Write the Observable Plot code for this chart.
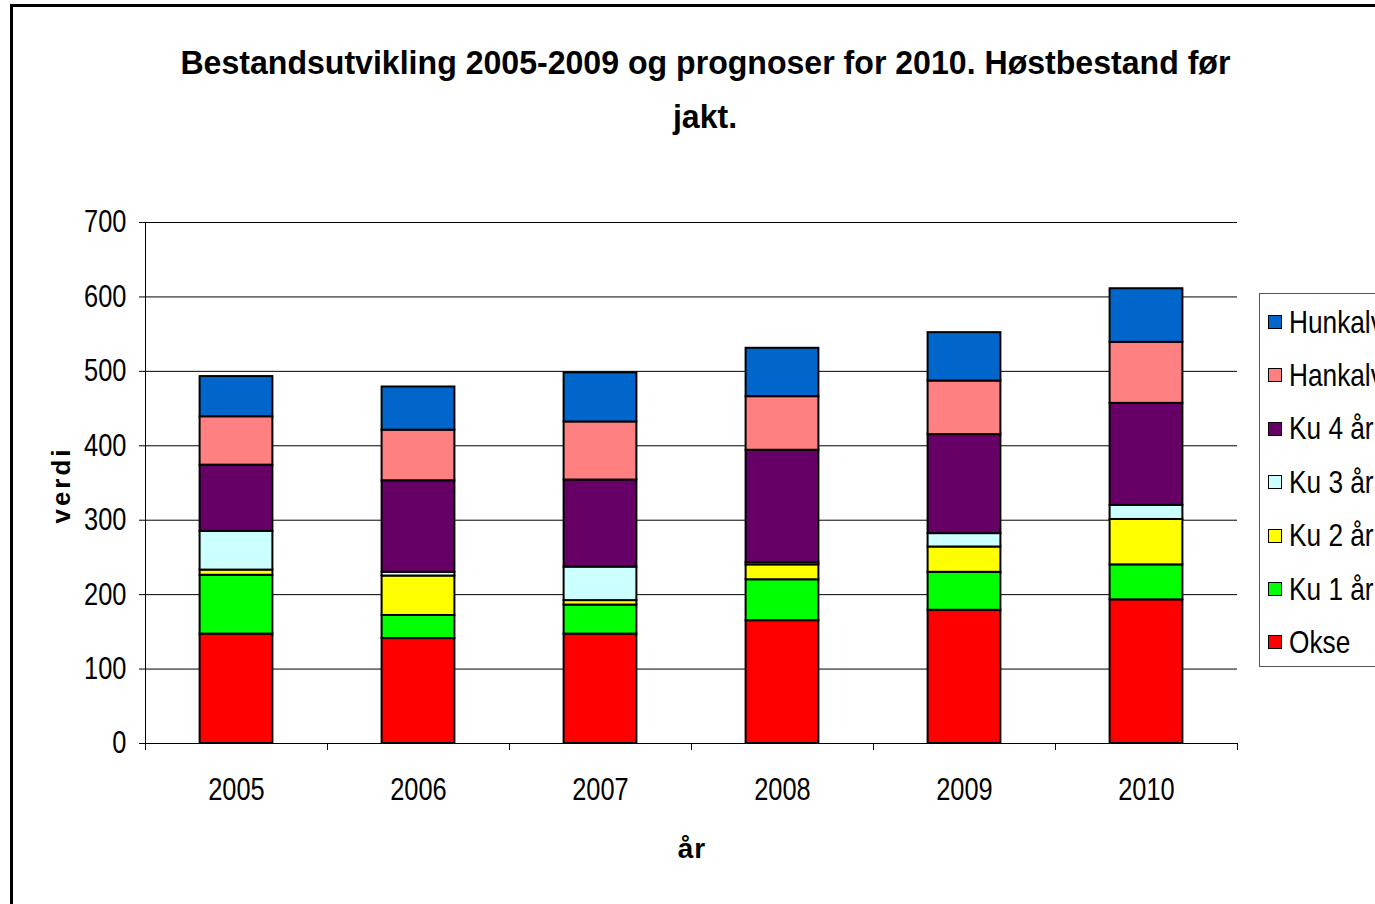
<!DOCTYPE html>
<html>
<head>
<meta charset="utf-8">
<script src="https://cdn.jsdelivr.net/npm/d3@7"></script>
<script src="https://cdn.jsdelivr.net/npm/@observablehq/plot@0.6"></script>
<style>
  html, body { margin: 0; padding: 0; width: 1375px; height: 904px; overflow: hidden; background: #fff; }
  #wrap { position: relative; width: 1375px; height: 904px; font-family: "Liberation Sans", Arial, sans-serif; }
  #frame { position: absolute; left: 10px; top: 4px; width: 1400px; height: 950px; border: 3px solid #000; box-sizing: border-box; }
  #chart { position: absolute; left: 0; top: 0; }
  #title { position: absolute; left: 105px; width: 1200px; top: 35px; text-align: center; font-weight: bold; font-size: 34px; line-height: 54px; color: #000; }
  #title span { display: inline-block; white-space: nowrap; transform-origin: center; }
  #ylab { position: absolute; left: 61px; top: 485px; transform: translate(-50%, -50%) rotate(-90deg); font-weight: bold; font-size: 26px; letter-spacing: 3px; white-space: nowrap; }
  #xlab { position: absolute; left: 692px; top: 849px; transform: translate(-50%, -50%); font-weight: bold; font-size: 28px; letter-spacing: 1px; white-space: nowrap; }
  #legend { position: absolute; left: 1259px; top: 293px; width: 200px; height: 374px; border: 1px solid #555; box-sizing: border-box; }
  .item { position: absolute; left: 8px; height: 40px; display: flex; align-items: center; font-size: 32px; white-space: nowrap; transform: translateY(-50%); }
  .item .tx { display: inline-block; transform: scaleX(0.82); transform-origin: left center; }
  .sw { width: 12px; height: 12px; border: 1.5px solid #000; margin-right: 7px; flex: none; }
</style>
</head>
<body>
<div id="wrap">
  <div id="frame"></div>
  <div id="chart"></div>
  <div id="title"><span id="t1">Bestandsutvikling 2005-2009 og prognoser for 2010. Høstbestand før</span><br><span id="t2">jakt.</span></div>
  <div id="ylab">verdi</div>
  <div id="xlab">år</div>
  <div id="legend"></div>
</div>
<script>
const years = ["2005", "2006", "2007", "2008", "2009", "2010"];
const series = ["Okse", "Ku 1 år", "Ku 2 år", "Ku 3 år", "Ku 4 år", "Hankalv", "Hunkalv"];
const colors = ["#FF0000", "#00FF00", "#FFFF00", "#CCFFFF", "#660066", "#FF8080", "#0066CC"];
const okse    = [147, 141, 147, 165, 179, 193];
const ku1     = [79, 31, 39, 55, 51, 47];
const ku2     = [7, 53, 6, 20, 34, 61];
const ku3     = [52, 5, 45, 3, 18, 19];
const ku4     = [89, 123, 117, 151, 133, 137];
const hankalv = [65, 68, 78, 72, 72, 82];
const hunkalv = [54, 58, 66, 65, 65, 72];
const yTicks = [0, 100, 200, 300, 400, 500, 600, 700];

const valuesBySeries = [okse, ku1, ku2, ku3, ku4, hankalv, hunkalv];
const data = [];
series.forEach((s, si) => {
  years.forEach((yr, i) => {
    data.push({ series: s, year: yr, idx: i, value: valuesBySeries[si][i] });
  });
});
const boundaries = d3.range(years.length + 1);
const centers = years.map((_, i) => i + 0.5);

const plot = Plot.plot({
  width: 1375,
  height: 904,
  marginLeft: 145,
  marginRight: 138,
  marginTop: 222,
  marginBottom: 161,
  style: { fontFamily: '"Liberation Sans", Arial, sans-serif', fontSize: "31px", color: "#000", background: "transparent" },
  x: { type: "linear", domain: [0, years.length], axis: null },
  y: { domain: [0, 700], axis: null },
  color: { domain: series, range: colors },
  marks: [
    Plot.ruleY(yTicks.filter(d => d > 0), { stroke: "#000", strokeWidth: 1 }),
    Plot.rectY(data, Plot.stackY({
      x1: d => d.idx + 0.3,
      x2: d => d.idx + 0.7,
      y: "value",
      z: "series",
      order: series,
      fill: "series",
      stroke: "#000",
      strokeWidth: 2
    })),
    Plot.ruleX([0], { stroke: "#000", strokeWidth: 1 }),
    Plot.ruleY([0], { stroke: "#000", strokeWidth: 1 }),
    Plot.axisY({ ticks: yTicks, tickSize: 6, tickPadding: 13, tickFormat: d3.format("d"), stroke: "#000", fill: "#000", label: null }),
    Plot.axisX({ ticks: boundaries, tickSize: 7, tickFormat: () => "", stroke: "#000", label: null }),
    Plot.axisX({ ticks: centers, tickSize: 0, tickPadding: 34, tickFormat: d => years[Math.floor(d)], fill: "#000", label: null })
  ]
});
document.getElementById("chart").appendChild(plot);

// condense the axis labels horizontally (the reference uses a narrow face)
plot.querySelectorAll("text").forEach(t => {
  const x = +(t.getAttribute("x") || 0);
  const tr = t.getAttribute("transform") || "";
  t.setAttribute("transform", `${tr} translate(${x},0) scale(0.82,1) translate(${-x},0)`);
});

// title: condense to the reference width
const t1 = document.getElementById("t1");
const t2 = document.getElementById("t2");
const w = t1.getBoundingClientRect().width;
const s = Math.min(1, 1050 / w);
t1.style.transform = `scaleX(${s})`;
t2.style.transform = `scaleX(${s})`;

const legend = document.getElementById("legend");
const legendOrder = series.slice().reverse();
legendOrder.forEach((name, i) => {
  const it = document.createElement("div");
  it.className = "item";
  it.style.top = (28 + i * 53.4) + "px";
  const sw = document.createElement("span");
  sw.className = "sw";
  sw.style.background = colors[series.indexOf(name)];
  const tx = document.createElement("span");
  tx.className = "tx";
  tx.textContent = name;
  it.appendChild(sw);
  it.appendChild(tx);
  legend.appendChild(it);
});
</script>
</body>
</html>
